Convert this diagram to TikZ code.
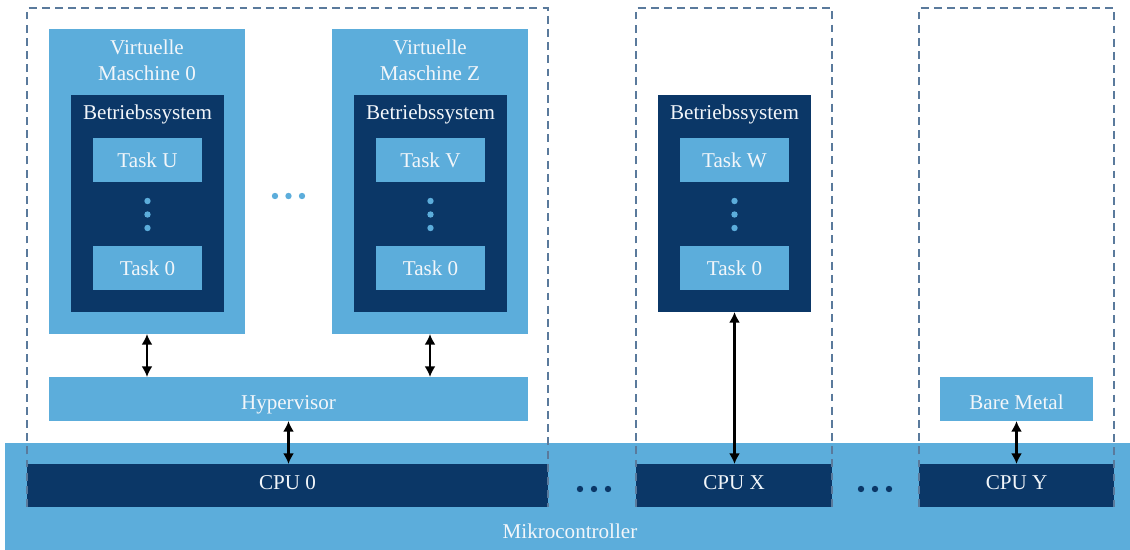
\documentclass[tikz,border=0pt]{standalone}
\usepackage{fontspec}
\setmainfont{Liberation Serif}
\usetikzlibrary{arrows.meta}
\definecolor{lightb}{HTML}{5CADDB}
\definecolor{darkb}{HTML}{0B3767}
\definecolor{dashc}{HTML}{5A7A9C}
\definecolor{txt}{HTML}{F2F6FA}
\begin{document}
\begin{tikzpicture}[x=0.02cm,y=-0.02cm,
  every node/.style={font=\fontsize{12}{14.7}\selectfont, text=txt, inner sep=0pt, outer sep=0pt},
  blk/.style 2 args={anchor=north west, minimum width=#1*0.02cm, minimum height=#2*0.02cm},
  lbl/.style={anchor=base},
  light/.style={fill=lightb},
  dark/.style={fill=darkb},
  region/.style={draw=dashc, line width=0.7pt, dash pattern=on 4.5pt off 3pt},
  link/.style={{Latex[length=6pt,width=6.2pt]}-{Latex[length=6pt,width=6.2pt]}, line width=1.3pt, black},
  dotl/.style={fill=lightb},
  dotd/.style={fill=darkb}]
\useasboundingbox (0,0) rectangle (1130,550);

% microcontroller base
\node[blk={1125}{107}, light] (mc) at (5,443) {};
\node[lbl] (mclbl) at (570,539) {Mikrocontroller};

% cores
\node[blk={521}{43}, dark] (cpu0) at (27,464) {};
\node[blk={196}{43}, dark] (cpuX) at (636,464) {};
\node[blk={195}{43}, dark] (cpuY) at (919,464) {};
\node[lbl] (cpu0lbl) at (287.5,489.3) {CPU 0};
\node[lbl] (cpuXlbl) at (734,489.3) {CPU X};
\node[lbl] (cpuYlbl) at (1016.5,489.3) {CPU Y};

% core domains
\draw[region] (27,507) -- (27,8) -- (548,8) -- (548,507);
\draw[region] (636,507) -- (636,8) -- (832,8) -- (832,507);
\draw[region] (919,507) -- (919,8) -- (1114,8) -- (1114,507);

% hypervisor and bare metal
\node[blk={479}{44}, light] (hyp) at (49,377) {};
\node[blk={153}{44}, light] (bare) at (940,377) {};
\node[lbl] (hyplbl) at (288.5,409.3) {Hypervisor};
\node[lbl] (barelbl) at (1016.5,409.3) {Bare Metal};

% virtual machines
\node[blk={196}{305}, light] (vm0) at (49,29) {};
\node[blk={196}{305}, light] (vmz) at (332,29) {};
\node[lbl] (vm0lblA) at (147,55) {Virtuelle};
\node[lbl] (vm0lblB) at (147,81) {Maschine 0};
\node[lbl] (vmzlblA) at (430,55) {Virtuelle};
\node[lbl] (vmzlblB) at (430,81) {Maschine Z};

% operating systems
\node[blk={153}{217}, dark] (os0) at (71,95) {};
\node[blk={153}{217}, dark] (osz) at (354,95) {};
\node[blk={153}{217}, dark] (osx) at (658,95) {};
\node[lbl] (os0lbl) at (147.5,120) {Betriebssystem};
\node[lbl] (oszlbl) at (430.5,120) {Betriebssystem};
\node[lbl] (osxlbl) at (734.5,120) {Betriebssystem};

% tasks
\node[blk={109}{44}, light] (tu) at (93,138) {};
\node[blk={109}{44}, light] (t0a) at (93,246) {};
\node[blk={109}{44}, light] (tv) at (376,138) {};
\node[blk={109}{44}, light] (t0b) at (376,246) {};
\node[blk={109}{44}, light] (tw) at (680,138) {};
\node[blk={109}{44}, light] (t0c) at (680,246) {};
\node[lbl] (tulbl) at (147.5,167.3) {Task U};
\node[lbl] (t0albl) at (147.5,275.3) {Task 0};
\node[lbl] (tvlbl) at (430.5,167.3) {Task V};
\node[lbl] (t0blbl) at (430.5,275.3) {Task 0};
\node[lbl] (twlbl) at (734.5,167.3) {Task W};
\node[lbl] (t0clbl) at (734.5,275.3) {Task 0};

% ellipses
\foreach \cx in {147.5,430.5,734.5}
  \foreach \cy in {201,214.5,228}
    \fill[dotl] (\cx,\cy) circle (3.2);
\foreach \cx in {275,288.5,302}
  \fill[dotl] (\cx,196) circle (3.2);
\foreach \cx in {580,594,608,861,875,889}
  \fill[dotd] (\cx,489) circle (3.2);

% connections
\draw[link] (vm0.south) -- (vm0.south |- hyp.north);
\draw[link] (vmz.south) -- (vmz.south |- hyp.north);
\draw[link] (hyp.south) -- (hyp.south |- cpu0.north);
\draw[link] (osx.south) -- (osx.south |- cpuX.north);
\draw[link] (bare.south) -- (bare.south |- cpuY.north);
\end{tikzpicture}
\end{document}
